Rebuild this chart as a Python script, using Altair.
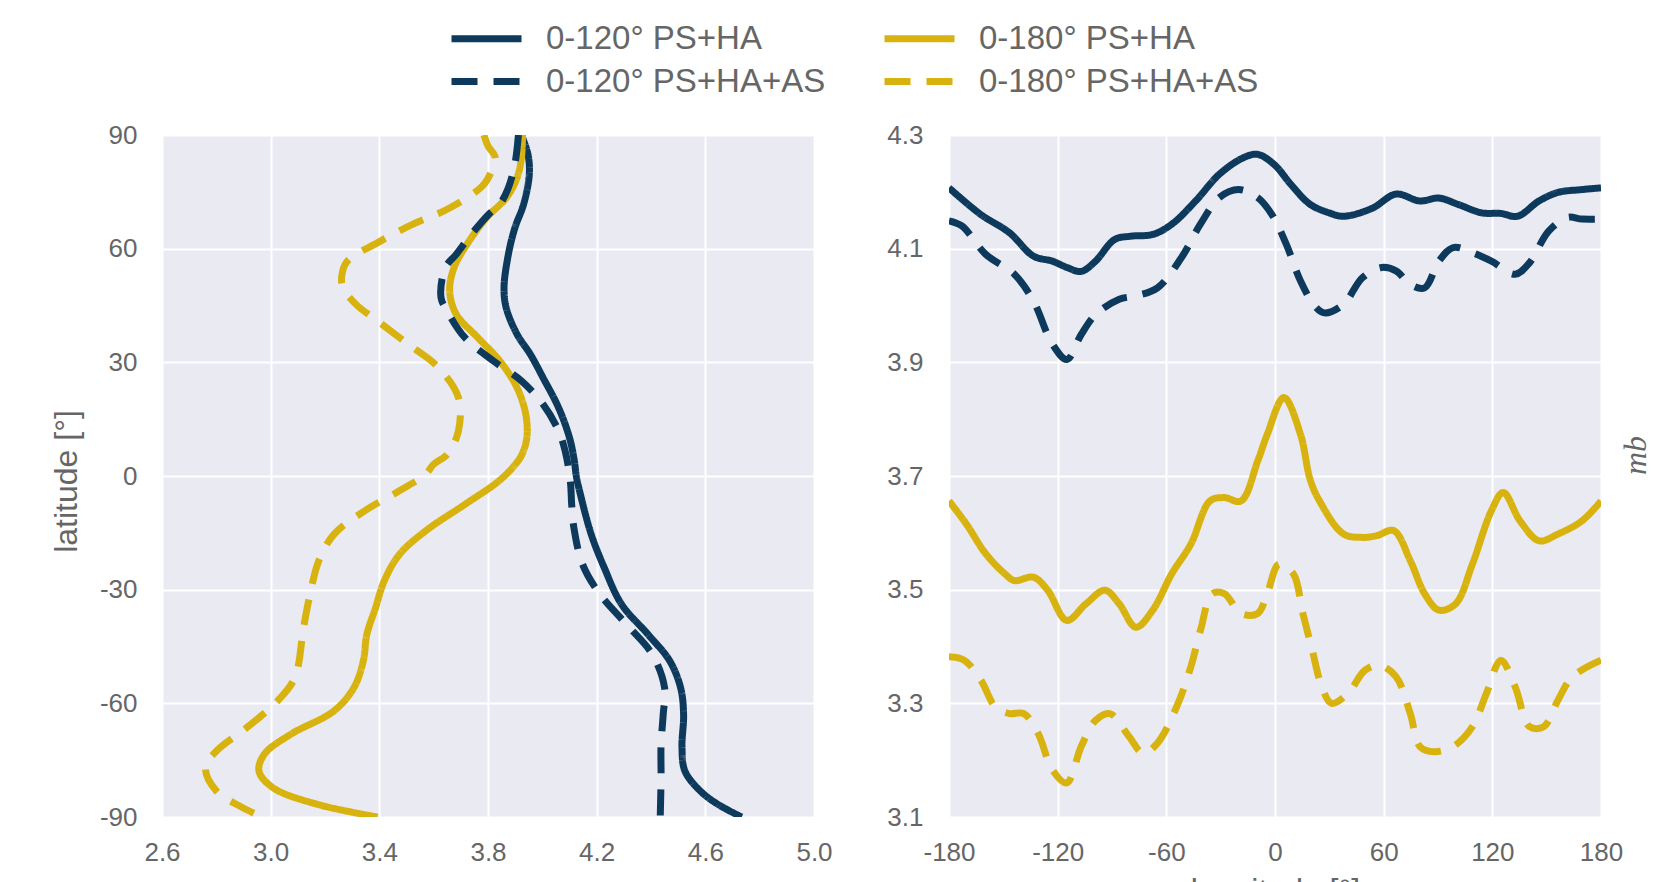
import altair as alt
import pandas as pd

SERIES = ["0-120° PS+HA", "0-180° PS+HA", "0-120° PS+HA+AS", "0-180° PS+HA+AS"]
LEGEND_ORDER = ["0-120° PS+HA", "0-120° PS+HA+AS", "0-180° PS+HA", "0-180° PS+HA+AS"]
COLORS = ["#0d3a5c", "#d8b30f", "#0d3a5c", "#d8b30f"]
DASHES = [[1, 0], [1, 0], [26, 16], [26, 16]]

X_LEFT_TICKS = [2.6, 3.0, 3.4, 3.8, 4.2, 4.6, 5.0]
Y_LEFT_TICKS = [-90, -60, -30, 0, 30, 60, 90]
X_RIGHT_TICKS = [-180, -120, -60, 0, 60, 120, 180]
Y_RIGHT_TICKS = [3.1, 3.3, 3.5, 3.7, 3.9, 4.1, 4.3]

# ---- latitude profiles (left panel) ----
lat_120 = [90, 84.9, 79.6, 71.7, 65.5, 58.5, 49.7, 44.4, 37.4, 32.1, 25.9, 18.0, 10.1, 3.9, 0,
           -4.8, -15.4, -24.2, -33.9, -41.8, -48.8, -55.9, -62.9, -71.7, -77.9, -83.1, -86.6, -90]
mb_lat_120 = [3.923, 3.947, 3.952, 3.931, 3.899, 3.875, 3.859, 3.867, 3.907, 3.956, 4.003, 4.06, 4.10, 4.118, 4.125,
              4.14, 4.18, 4.228, 4.292, 4.389, 4.469, 4.509, 4.52, 4.514, 4.525, 4.581, 4.645, 4.734]

lat_180 = [90, 84, 78.7, 73.5, 68.2, 61.2, 55, 48.8, 42.7, 36.5, 30.4, 23.3, 16.3, 10.1, 5.7, 3.0, -1.3,
           -7.5, -14.5, -20.7, -27.7, -34.8, -41.8, -48.8, -55.9, -62, -68.2, -73.4, -77.9, -82.3, -86.6, -90]
mb_lat_180 = [3.927, 3.923, 3.907, 3.868, 3.795, 3.723, 3.675, 3.659, 3.683, 3.763, 3.843, 3.907, 3.939, 3.943, 3.925, 3.90, 3.84,
              3.715, 3.57, 3.474, 3.418, 3.386, 3.354, 3.341, 3.306, 3.233, 3.073, 2.977, 2.957, 3.009, 3.169, 3.394]

lat_120_as = [90, 82.3, 76.1, 71.7, 69.1, 63.8, 58.5, 55, 47.1, 43.5, 36.5, 30.4, 25.1, 18.9, 11.9, 6.6,
              -1.3, -7.5, -13.6, -23.3, -31.2, -39.1, -47.1, -55.9, -62.9, -70.8, -79.6, -90]
mb_lat_120_as = [3.912, 3.899, 3.875, 3.843, 3.803, 3.739, 3.683, 3.643, 3.627, 3.65, 3.715, 3.819, 3.923, 4.003, 4.06, 4.084,
                 4.103, 4.108, 4.116, 4.148, 4.212, 4.309, 4.405, 4.45, 4.445, 4.437, 4.437, 4.434]

lat_180_as = [90, 87.1, 84, 80, 76.5, 70.4, 66.4, 61.6, 56.7, 53, 49.7, 45.3, 40.9, 34.8, 28.6, 20.7, 11.9, 5.7, 3.1, 0.45,
              -3.9, -9.2, -15.4, -22.4, -31.2, -40, -53.2, -59.4, -66.4, -72.6, -77, -83.1, -87.5, -90]
mb_lat_180_as = [3.785, 3.80, 3.827, 3.81, 3.779, 3.65, 3.522, 3.394, 3.282, 3.262, 3.266, 3.314, 3.394, 3.506, 3.618, 3.691, 3.691, 3.65, 3.60, 3.57,
                 3.474, 3.346, 3.233, 3.177, 3.145, 3.121, 3.089, 3.025, 2.912, 2.8, 2.76, 2.8, 2.896, 2.969]

# ---- longitude profiles (right panel) ----
lon_120 = [-180, -162.4, -146.6, -133.4, -122.9, -114.9, -107, -99.1, -88.6, -79.4, -67.5, -57, -43.8, -30.7, -17.5, -9.6,
           -0.4, 8.8, 19.4, 29.9, 37.8, 53.6, 66.8, 79.9, 90.5, 101, 114.2, 124.7, 133.9, 145.8, 156.3, 169.5, 180]
mb_lon_120 = [4.207, 4.16, 4.128, 4.087, 4.078, 4.067, 4.06, 4.078, 4.116, 4.122, 4.125, 4.143, 4.184, 4.231, 4.26, 4.266,
              4.248, 4.213, 4.178, 4.163, 4.157, 4.171, 4.196, 4.184, 4.189, 4.178, 4.163, 4.162, 4.157, 4.184, 4.199, 4.204, 4.207]

lon_120_as = [-180, -172.9, -159.7, -143.9, -133.4, -122.9, -114.9, -107, -99.1, -86, -76.8, -64.9, -51.7, -41.2, -30.7, -20.1,
              -9.6, -1.7, 6.2, 14.1, 22, 27.3, 37.8, 48.3, 58.9, 66.8, 74.7, 82.6, 90.5, 98.4, 109, 119.5, 132.6, 140.5,
              151.1, 161.6, 169.5, 180]
mb_lon_120_as = [4.149, 4.14, 4.09, 4.055, 4.008, 3.932, 3.905, 3.949, 3.984, 4.011, 4.017, 4.031, 4.084, 4.143, 4.19, 4.204,
                 4.19, 4.16, 4.108, 4.043, 3.999, 3.987, 4.002, 4.049, 4.067, 4.061, 4.037, 4.031, 4.078, 4.102, 4.093, 4.078, 4.055, 4.075,
                 4.131, 4.155, 4.152, 4.152]

lon_180 = [-180, -170.3, -159.7, -149.2, -143.9, -133.4, -125.5, -115, -104.4, -93.9, -86, -76.8, -67.5, -57, -46.5, -35.9,
           -28, -18.8, -9.6, -4.3, 4.9, 14.1, 19.4, 24.6, 37.8, 48.3, 56.2, 65.5, 74.7, 82.6, 90.5, 99.7, 109, 119.5,
           126, 135.3, 145.8, 156.3, 169.5, 180]
mb_lon_180 = [3.656, 3.615, 3.563, 3.528, 3.516, 3.522, 3.499, 3.446, 3.475, 3.499, 3.475, 3.434, 3.464, 3.528, 3.58, 3.656,
              3.662, 3.656, 3.726, 3.773, 3.838, 3.773, 3.694, 3.656, 3.598, 3.592, 3.595, 3.604, 3.551, 3.493, 3.464, 3.475, 3.545, 3.639,
              3.671, 3.621, 3.586, 3.598, 3.621, 3.656]

lon_180_as = [-180, -171.6, -162.4, -154.5, -146.6, -138.7, -130.8, -122.9, -115, -107, -99.1, -91.2, -80.7, -72.8, -64.9,
              -54.3, -46.5, -41.2, -34.6, -28, -18.8, -9.6, -4.3, 2.2, 10.1, 15.4, 20.6, 25.9, 31.2, 40.4, 49.6, 57.6,
              66.8, 74.7, 80, 87.9, 98.4, 109, 116.8, 124.7, 132.6, 140.5, 148.4, 156.3, 164.2, 180]
mb_lon_180_as = [3.382, 3.376, 3.341, 3.294, 3.282, 3.282, 3.247, 3.183, 3.16, 3.224, 3.27, 3.282, 3.242, 3.212, 3.23,
                 3.294, 3.364, 3.428, 3.493, 3.493, 3.458, 3.458, 3.493, 3.545, 3.528, 3.458, 3.393, 3.329, 3.3, 3.318, 3.358, 3.367,
                 3.347, 3.282, 3.224, 3.215, 3.224, 3.259, 3.318, 3.376, 3.329, 3.259, 3.259, 3.306, 3.347, 3.376]


def build(series_list, xs_list, ys_list, xname, yname):
    rows = []
    for s, xs, ys in zip(series_list, xs_list, ys_list):
        for i, (a, b) in enumerate(zip(xs, ys)):
            rows.append({"series": s, xname: a, yname: b, "idx": i})
    return pd.DataFrame(rows)


df_lat = build(SERIES,
               [mb_lat_120, mb_lat_180, mb_lat_120_as, mb_lat_180_as],
               [lat_120, lat_180, lat_120_as, lat_180_as], "mb", "lat")
df_lon = build(SERIES,
               [lon_120, lon_180, lon_120_as, lon_180_as],
               [mb_lon_120, mb_lon_180, mb_lon_120_as, mb_lon_180_as], "lon", "mb")

GRAY = "#666666"
FONT = "Liberation Sans"
HYPHEN = "replace(datum.label, '\u2212', '-')"

axis_common = dict(grid=True, gridColor="white", gridWidth=2, domain=False, ticks=False,
                   labelFont=FONT, labelFontSize=26, labelColor=GRAY, labelFlush=False,
                   labelOverlap=False, labelExpr=HYPHEN,
                   titleFont=FONT, titleFontSize=32, titleColor=GRAY, titleFontWeight="normal")

legend = alt.Legend(title=None, orient="none", legendX=308, legendY=-113, columns=2,
                    columnPadding=44, rowPadding=9, symbolType="M-3.5,0H3.5", symbolSize=400,
                    symbolStrokeWidth=7, labelFontSize=33, labelFont=FONT, labelColor=GRAY,
                    labelOffset=43, labelLimit=500, padding=0, values=LEGEND_ORDER)

color_scale = alt.Scale(domain=SERIES, range=COLORS)
dash_scale = alt.Scale(domain=SERIES, range=DASHES)

W, H = 652, 682

left = alt.Chart(df_lat).mark_line(strokeWidth=7, interpolate="catmull-rom", clip=True).encode(
    x=alt.X("mb:Q", scale=alt.Scale(domain=[2.6, 5.0], nice=False, zero=False),
            axis=alt.Axis(values=X_LEFT_TICKS, format=".1f", title=None, labelPadding=22, **axis_common)),
    y=alt.Y("lat:Q", scale=alt.Scale(domain=[-90, 90], nice=False),
            axis=alt.Axis(values=Y_LEFT_TICKS, format="d", title="latitude [°]", labelPadding=25,
                          titleX=-96, titleY=346, titleAngle=270, titleAlign="center",
                          titleBaseline="middle", **axis_common)),
    color=alt.Color("series:N", scale=color_scale, legend=legend),
    strokeDash=alt.StrokeDash("series:N", scale=dash_scale, legend=legend),
    order=alt.Order("idx:Q"),
).properties(width=W, height=H)

right = alt.Chart(df_lon).mark_line(strokeWidth=7, interpolate="catmull-rom", clip=True).encode(
    x=alt.X("lon:Q", scale=alt.Scale(domain=[-180, 180], nice=False),
            axis=alt.Axis(values=X_RIGHT_TICKS, format="d", title="longitude [°]", labelPadding=22,
                          titleX=W / 2, titleY=58, titleAlign="center", titleBaseline="top",
                          **axis_common)),
    y=alt.Y("mb:Q", scale=alt.Scale(domain=[3.1, 4.3], nice=False, zero=False),
            axis=alt.Axis(values=Y_RIGHT_TICKS, format=".1f", title="mb", labelPadding=26,
                          titleX=W + 34, titleY=320, titleAngle=270, titleAlign="center",
                          titleBaseline="middle", **{**axis_common, "titleFont": "Liberation Serif"},
                          titleFontStyle="italic")),
    color=alt.Color("series:N", scale=color_scale, legend=None),
    strokeDash=alt.StrokeDash("series:N", scale=dash_scale, legend=None),
    order=alt.Order("idx:Q"),
).properties(width=W, height=H)

chart = alt.hconcat(left, right, spacing=135, bounds="flush").resolve_legend(
    color="independent", strokeDash="independent"
).properties(
    padding={"left": 41, "top": 13, "right": 0, "bottom": 0},
    background="white",
).configure_view(fill="#eaeaf2", stroke="transparent")

chart.save("out.html", embed_options={"renderer": "svg", "actions": False})
